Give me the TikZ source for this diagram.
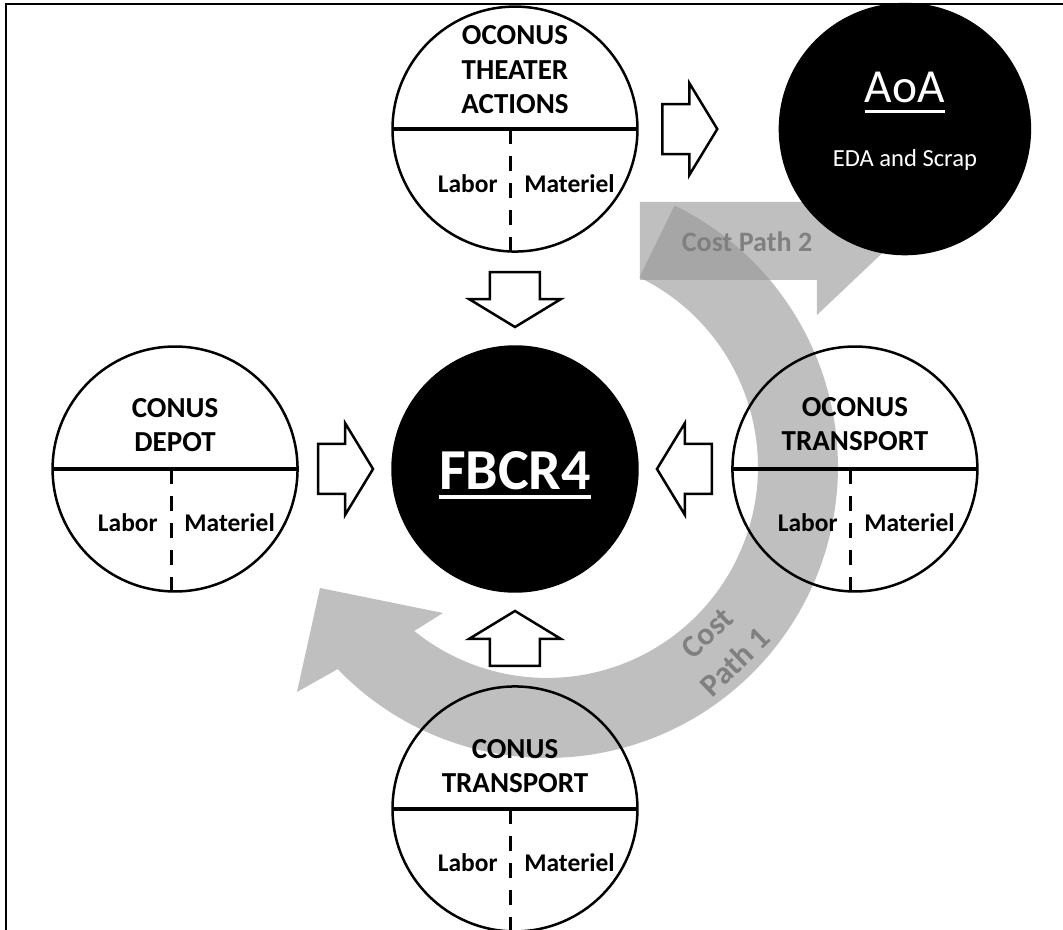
\documentclass[tikz,border=0pt]{standalone}
\usepackage{fontspec}
\setmainfont{Carlito}
\usetikzlibrary{positioning,calc}

\tikzset{
  pool/.style={circle, draw, line width=0.05cm, minimum size=4.9cm, inner sep=0pt, outer sep=0pt},
  hub/.style={pool, fill=black},
  divider/.style={line width=0.08cm},
  dashdiv/.style={line width=0.06cm, dash pattern=on 0.3cm off 0.24cm},
  ptitle/.style={font=\fontsize{16.5}{19.5}\selectfont\bfseries, align=center, inner sep=0pt},
  plabel/.style={font=\fontsize{14.5}{17}\selectfont\bfseries, inner sep=0pt},
  costband/.style={fill=black!41, fill opacity=0.61},
  costtext/.style={text=black!50, font=\fontsize{16}{20}\selectfont\bfseries, align=center, inner sep=0pt},
  blockarrow/.pic={
    \draw[fill=white, line width=0.05cm] (-27,-25) -- (0,-25) -- (0,-46) -- (28,0)
      -- (0,46) -- (0,25) -- (-27,25) -- cycle;
  }
}

\begin{document}
\begin{tikzpicture}[x=0.02cm, y=0.02cm, node distance=1.9cm]
  \useasboundingbox (-515,-461) rectangle (548,469);
  \draw[line width=0.04cm] (-509,-461) -- (-509,465) -- (548,465);

  % cost paths (drawn first, circles go on top)
  \coordinate (pivot) at (32,2);
  \fill[costband] ($(pivot)+(64:4.22cm)$) arc[start angle=64, end angle=-129, radius=4.22cm]
    -- (-72,-144) -- (-195,-119) -- (-218,-223) -- ($(pivot)+(-136:5.82cm)$)
    arc[start angle=-136, end angle=64, radius=5.82cm] -- cycle;
  \fill[costband] (125,267) -- (302,267) -- (302,302) -- (380,228) -- (302,154)
    -- (302,189) -- (125,189) -- cycle;

  \node[hub] (fbcr) at (0,0) {};
  \node[pool, above=of fbcr] (theater) {};
  \node[pool, left=of fbcr] (depot) {};
  \node[pool, right=of fbcr] (otrans) {};
  \node[pool, below=of fbcr] (ctrans) {};
  \node[hub, minimum size=5cm, right=2.85cm of theater] (aoa) {};

  \foreach \p in {theater,depot,otrans,ctrans} {
    \draw[divider] (\p.west) -- (\p.east);
    \draw[dashdiv] ([shift={(-4,0)}]\p.center) -- ([shift={(-4,0)}]\p.south);
    \node[plabel, anchor=base east] (\p-lab) at ([shift={(-17,-63)}]\p.center) {Labor};
    \node[plabel, anchor=base west] (\p-mat) at ([shift={(9,-63)}]\p.center) {Materiel};
  }

  \node[ptitle, above=0.3cm] (theater-t) at (theater.center) {OCONUS\\THEATER\\ACTIONS};
  \node[ptitle, above=0.34cm] (depot-t) at (depot.center) {CONUS\\DEPOT};
  \node[ptitle, above=0.36cm] (otrans-t) at (otrans.center) {OCONUS\\TRANSPORT};
  \node[ptitle, above=0.32cm] (ctrans-t) at (ctrans.center) {CONUS\\TRANSPORT};

  \node[anchor=base, text=white, font=\fontsize{33}{39}\selectfont\bfseries, inner sep=0pt]
    (fbcr-t) at ([yshift=-0.42cm]fbcr.center) {FBCR4};
  \draw[white, line width=0.09cm] ([yshift=-0.14cm]fbcr-t.base west) -- ([yshift=-0.14cm]fbcr-t.base east);

  \node[anchor=base, text=white, font=\fontsize{27}{32}\selectfont, inner sep=0pt]
    (aoa-t) at ([yshift=0.54cm]aoa.center) {AoA};
  \draw[white, line width=0.06cm] ([yshift=-0.18cm]aoa-t.base west) -- ([yshift=-0.18cm]aoa-t.base east);
  \node[anchor=base, text=white, font=\fontsize{14}{17}\selectfont, inner sep=0pt]
    (aoa-s) at ([yshift=-0.74cm]aoa.center) {EDA and Scrap};

  \pic[rotate=-90] at ($(theater)!0.5!(fbcr)$) {blockarrow};
  \pic at ($(depot)!0.5!(fbcr)$) {blockarrow};
  \pic[rotate=180] at ($(otrans)!0.5!(fbcr)$) {blockarrow};
  \pic[rotate=90] at ($(ctrans)!0.5!(fbcr)$) {blockarrow};
  \pic at ($(theater)!0.447!(aoa)$) {blockarrow};

  \node[costtext] (cp2) at (232,227) {Cost Path 2};
  \node[costtext, font=\fontsize{18}{23}\selectfont\bfseries, rotate=44] (cp1)
    at ($(pivot)+(-46:5.02cm)$) {Cost\\Path 1};
\end{tikzpicture}
\end{document}
